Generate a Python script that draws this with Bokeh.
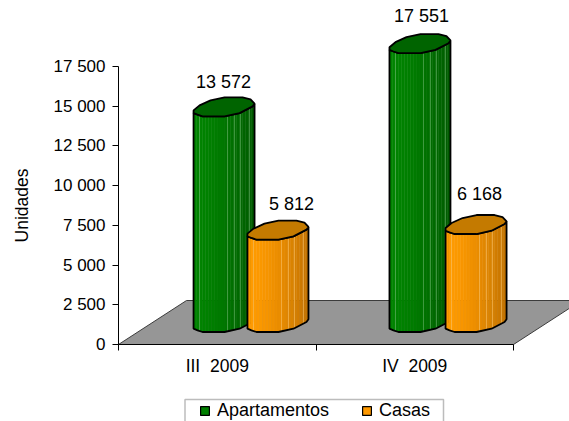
import numpy as np
from bokeh.embed import file_html
from bokeh.resources import INLINE
from bokeh.plotting import figure
from bokeh.core.properties import value
from bokeh.models import (Range1d, LinearAxis, FixedTicker, Legend, LegendItem,
                          ColumnDataSource, BoxAnnotation)

# ---- data ----
categories = ["III\u00a0\u00a02009", "IV\u00a0\u00a02009"]
apartamentos = [13572, 17551]
casas = [5812, 6168]
y_ticks = [0, 2500, 5000, 7500, 10000, 12500, 15000, 17500]
y_tick_labels = ["0", "2 500", "5 000", "7 500", "10 000", "12 500", "15 000", "17 500"]
series_names = ["Apartamentos", "Casas"]

# ---- layout: scale factors of the plot ----
W, H = 569, 421
X0_PX, X_UNIT = 118, 197.5      # category 0 edge inside the figure, px per category
Y0_PX, Y_UNIT = 344, 0.015886   # value 0 from the top of the figure, px per value unit
ux = lambda px: px / X_UNIT
uy = lambda px: px / Y_UNIT

FONT = "Liberation Sans"
p = figure(width=W, height=H, output_backend="svg", toolbar_location=None,
           x_range=Range1d(-X0_PX / X_UNIT, (W - X0_PX) / X_UNIT),
           y_range=Range1d(-(H - Y0_PX) / Y_UNIT, Y0_PX / Y_UNIT),
           min_border=0, outline_line_color=None, background_fill_color="white",
           border_fill_color="white")
p.grid.visible = False
p.xaxis.visible = False
p.yaxis.visible = False

# floor
d_x, d_y = ux(68), uy(44)
p.patch([0, 2, 2 + d_x, d_x], [0, 0, d_y, d_y], fill_color="#969696",
        line_color="#3c3c3c", line_width=1)

# cross-section of a bar (px from its left/front-bottom)
front = np.array([(0, 3.3), (4, 1.7), (9, 0), (31, 0), (46, 3.3), (59, 10), (61, 12.7)])
back = np.array([(61, 12.7), (57, 17), (49, 19), (31, 19), (17, 16), (6, 11), (0, 6), (0, 3.3)])
stripes = [6, 34, 41, 47, 56]
BASE = uy(12.5)


def ramp(c0, c1, t):
    c = (1 - t) * np.array(c0) + t * np.array(c1)
    return "#%02x%02x%02x" % tuple(int(round(v)) for v in c)


def bar(left, val, c0, c1, cap, light):
    top_y = BASE + val
    edges = np.linspace(0, 61, 21)
    fy = lambda dx: np.interp(dx, front[:, 0], front[:, 1])
    xs, ys, cols = [], [], []
    for a, b in zip(edges[:-1], edges[1:]):
        xs.append([left + ux(a), left + ux(b), left + ux(b), left + ux(a)])
        ys.append([BASE + uy(fy(a)), BASE + uy(fy(b)), top_y + uy(fy(b)), top_y + uy(fy(a))])
        cols.append(ramp(c0, c1, (a / 61) ** 1.6))
    p.patches(xs, ys, fill_color=cols, line_color=cols, line_width=0.5)
    sx = [[left + ux(s)] * 2 for s in stripes]
    sy = [[BASE + uy(fy(s)), top_y + uy(fy(s))] for s in stripes]
    p.multi_line(sx, sy, line_color=light, line_width=1, line_alpha=0.5)
    ox = [left + ux(v) for v in front[:, 0]]
    oy = [BASE + uy(v) for v in front[:, 1]]
    p.patch(ox + ox[::-1], oy + [v + val for v in oy[::-1]], fill_color=None,
            line_color="black", line_width=1.8)
    capx = np.r_[front[:, 0], back[:, 0]]
    capy = np.r_[front[:, 1], back[:, 1]]
    p.patch(left + capx / X_UNIT, top_y + capy / Y_UNIT, fill_color=cap,
            line_color="black", line_width=1.8)


GREEN = ((0, 132, 0), (0, 88, 0), "#006400", "#7fc47f")
ORANGE = ((255, 155, 0), (190, 112, 0), "#c47a00", "#ffd080")
lefts_a = [0.38, 1.372]
lefts_c = [0.653, 1.656]
for i in range(2):
    bar(lefts_a[i], apartamentos[i], *GREEN)
    bar(lefts_c[i], casas[i], *ORANGE)

# value labels
vals = apartamentos + casas
lab = ColumnDataSource(dict(
    x=[lefts_a[0] + ux(30), lefts_a[1] + ux(32), lefts_c[0] + ux(44), lefts_c[1] + ux(34)],
    y=[v + BASE for v in vals],
    dy=[-34, -37, -36, -40],
    t=[f"{v:,}".replace(",", " ") for v in vals]))
p.text("x", "y", text="t", source=lab, text_font=value(FONT), text_font_size="18px",
       text_color="black", text_align="center", text_baseline="middle", y_offset="dy")

# axes
yax = LinearAxis(fixed_location=0, ticker=FixedTicker(ticks=y_ticks),
                 major_label_overrides=dict(zip(y_ticks, y_tick_labels)),
                 bounds=(0, 17500), axis_label="Unidades",
                 axis_label_text_font=FONT, axis_label_text_font_style="normal",
                 axis_label_text_color="black",
                 axis_label_text_font_size="17.5px", axis_label_standoff=19,
                 major_label_text_font=FONT, major_label_text_font_size="17px",
                 major_label_text_color="black",
                 major_tick_in=0, major_tick_out=6, minor_tick_in=0, minor_tick_out=0,
                 major_label_standoff=7, axis_line_color="black", major_tick_line_color="black")
p.add_layout(yax, "left")

xax = LinearAxis(fixed_location=0,
                 ticker=FixedTicker(ticks=[0.5, 1.5], minor_ticks=[0, 1, 2]),
                 major_label_overrides={0.5: categories[0], 1.5: categories[1]},
                 bounds=(0, 2), major_label_text_font=FONT, major_label_text_font_size="17.5px",
                 major_label_text_color="black",
                 major_tick_in=0, major_tick_out=0, minor_tick_in=0, minor_tick_out=6,
                 major_label_standoff=5, axis_line_color="black", minor_tick_line_color="black")
p.add_layout(xax, "below")

# legend
box = BoxAnnotation(left=184.5, right=443, top=22, bottom=-9, left_units="screen",
                    right_units="screen", top_units="screen", bottom_units="screen",
                    fill_color="white", fill_alpha=1, line_color="#222222", line_width=1.5)
p.add_layout(box)
r1 = p.quad(left=[-9], right=[-8.9], top=[1], bottom=[0], fill_color="#008000",
            line_color="black", line_width=1.2)
r2 = p.quad(left=[-9], right=[-8.9], top=[1], bottom=[0], fill_color="#ff9900",
            line_color="black", line_width=1.2)
leg = Legend(items=[LegendItem(label=series_names[0], renderers=[r1]),
                    LegendItem(label=series_names[1], renderers=[r2])],
             orientation="horizontal", location=(199, 0), border_line_color=None,
             background_fill_alpha=0, label_text_font=FONT, label_text_font_size="18px",
             label_text_color="black", glyph_width=11, glyph_height=11, label_standoff=7,
             spacing=32, padding=2, margin=0, label_height=18)
p.add_layout(leg, "center")

open("out.html", "w").write(file_html(p, INLINE))
